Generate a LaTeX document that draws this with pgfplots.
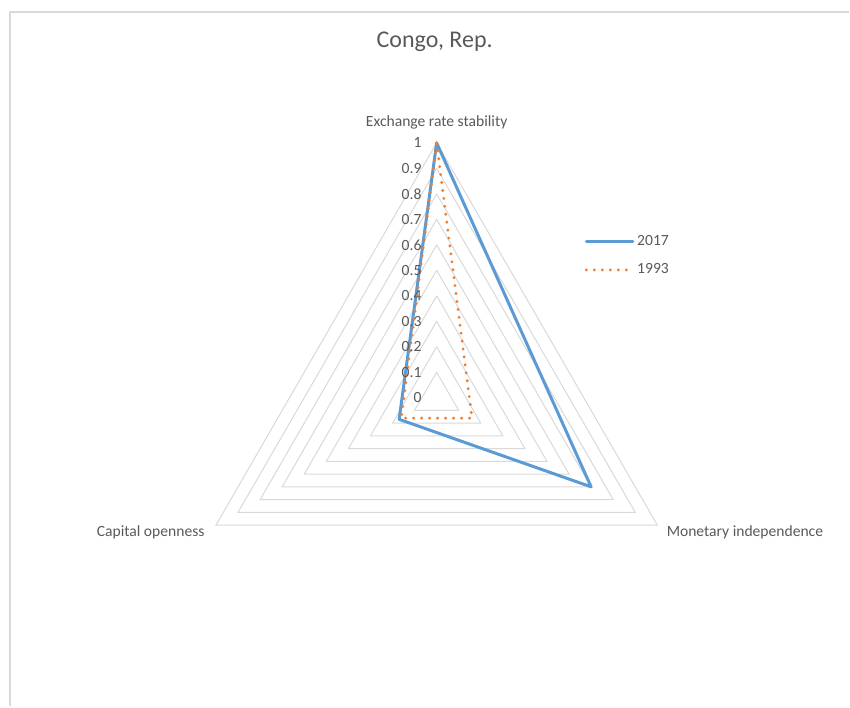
\documentclass[border=0pt]{standalone}
\usepackage{pgfplots}
\pgfplotsset{compat=1.18}
\usepackage{fontspec}
\setmainfont{Carlito}
\definecolor{blueS}{HTML}{5B9BD5}
\definecolor{orangeS}{HTML}{ED7D31}
\definecolor{gridc}{HTML}{D9D9D9}
\definecolor{txt}{HTML}{595959}
\newcommand{\lblfont}{\fontsize{11.7}{14}\selectfont}
\begin{document}
\begin{tikzpicture}
\begin{axis}[
  scale only axis,
  width=637.5pt, height=530.25pt,
  xmin=-1.7137, xmax=1.6196, ymin=-1.2118, ymax=1.5608,
  hide axis, clip=false,
  legend style={at={(axis cs:0.580,0.647)}, anchor=north west, draw=none, fill=none,
    font=\lblfont\color{txt}, row sep=8pt, inner sep=0pt,
    nodes={inner sep=2pt}},
  legend cell align=left,
  legend image code/.code={\draw[#1] (0pt,0pt) -- (35pt,0pt);},
]
% frame
\draw[gridc, line width=1pt] (axis cs:-1.6745,-1.2118) -- (axis cs:-1.6745,1.5137) -- (axis cs:1.6196,1.5137);
% grid rings
\pgfplotsinvokeforeach{0.1,0.2,0.3,0.4,0.5,0.6,0.7,0.8,0.9,1.0}{
  \addplot[gridc, line width=0.75pt, forget plot, data cs=polar] coordinates {(90,#1) (-30,#1) (210,#1) (90,#1)};
}
% data
\addplot[blueS, line width=2.25pt, line join=round, line cap=round, data cs=polar] coordinates {(90,1) (-30,0.70) (210,0.17) (90,1)};
\addlegendentry{2017}
\addplot[orangeS, line width=2.4pt, line join=round, line cap=round, dash pattern=on 0pt off 6pt, data cs=polar] coordinates {(90,1) (-30,0.16) (210,0.16) (90,1)};
\addlegendentry{1993}
% tick labels
\pgfplotsinvokeforeach{0,0.1,0.2,0.3,0.4,0.5,0.6,0.7,0.8,0.9,1}{
  \node[anchor=east, inner sep=0pt, font=\lblfont, text=txt] at (axis cs:-0.0588,#1) {#1};
}
% category labels
\node[font=\lblfont, text=txt] at (axis cs:0,1.082) {Exchange rate stability};
\node[anchor=east, inner sep=0pt, font=\lblfont, text=txt] at (axis cs:-0.910,-0.530) {Capital openness};
\node[anchor=west, inner sep=0pt, font=\lblfont, text=txt] at (axis cs:0.902,-0.530) {Monetary independence};
% title
\node[font=\fontsize{18}{22}\selectfont, text=txt] at (axis cs:-0.0078,1.396) {Congo, Rep.};
\path (rel axis cs:0,0) rectangle (rel axis cs:1,1);
\end{axis}
\end{tikzpicture}
\end{document}
